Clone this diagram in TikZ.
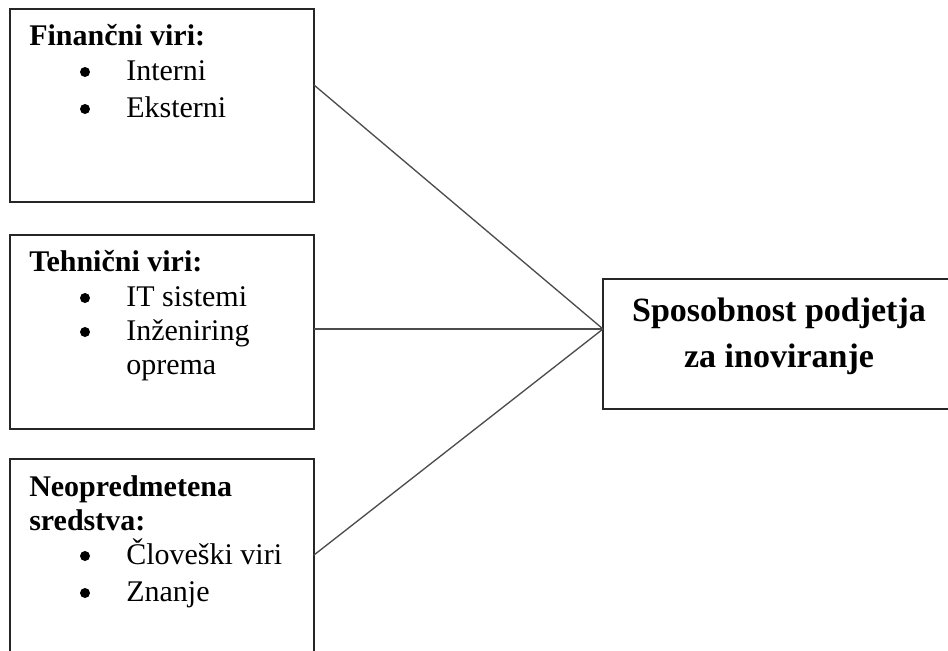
\documentclass[tikz,border=0pt]{standalone}
\usepackage{fontspec}
\setmainfont{Liberation Serif}
\begin{document}
\begin{tikzpicture}[x=0.75pt,y=-0.75pt,
  box/.style={draw=black!85, line width=1.4pt, rectangle, inner sep=0pt, outer sep=0pt},
  head/.style={anchor=base west, inner sep=0pt, font=\fontsize{22.5}{27}\selectfont\bfseries},
  item/.style={anchor=base west, inner sep=0pt, font=\fontsize{22.5}{27}\selectfont},
  dot/.style={circle, fill=black, inner sep=0pt, minimum size=7.5pt},
  goal/.style={anchor=base, inner sep=0pt, font=\fontsize{25.5}{30}\selectfont\bfseries},
  link/.style={draw=black!70, line width=1pt}]
\useasboundingbox (0,0) rectangle (948,650);

% resource boxes
\node[box, minimum width=228pt, minimum height=144.75pt] (fin) at (162,105.5) {};
\node[box, minimum width=228pt, minimum height=145.5pt]  (teh) at (162,332) {};
\node[box, minimum width=228pt, minimum height=147pt]    (neo) at (162,557) {};
% outcome box (runs past the right edge of the page)
\node[box, minimum width=262.5pt, minimum height=97.5pt] (spo) at (778,344) {};

% financial resources
\node[head] (fin-t) at (29,45) {Finančni viri:};
\node[dot]  (fin-d1) at (85,72) {};
\node[item] (fin-i1) at (126,80) {Interni};
\node[dot]  (fin-d2) at (85,109) {};
\node[item] (fin-i2) at (126,117) {Eksterni};

% technical resources
\node[head] (teh-t) at (29,271) {Tehnični viri:};
\node[dot]  (teh-d1) at (85,298) {};
\node[item] (teh-i1) at (126,306) {IT sistemi};
\node[dot]  (teh-d2) at (85,332) {};
\node[item] (teh-i2) at (126,340) {Inženiring};
\node[item] (teh-i3) at (126,374) {oprema};

% intangible assets
\node[head] (neo-t1) at (29,496) {Neopredmetena};
\node[head] (neo-t2) at (29,530) {sredstva:};
\node[dot]  (neo-d1) at (85,556) {};
\node[item] (neo-i1) at (126,564) {Človeški viri};
\node[dot]  (neo-d2) at (85,593) {};
\node[item] (neo-i2) at (126,601) {Znanje};

% outcome text
\node[goal] (spo-1) at (779,321) {Sposobnost podjetja};
\node[goal] (spo-2) at (779,367) {za inoviranje};

% connectors
\coordinate (join) at (spo.west |- 0,329);
\coordinate (fin-o) at (fin.east |- 0,85);
\coordinate (teh-o) at (teh.east |- 0,329);
\coordinate (neo-o) at (neo.east |- 0,555);
\draw[link] (fin-o) -- (join);
\draw[link] (teh-o) -- (join);
\draw[link] (neo-o) -- (join);
\end{tikzpicture}
\end{document}
